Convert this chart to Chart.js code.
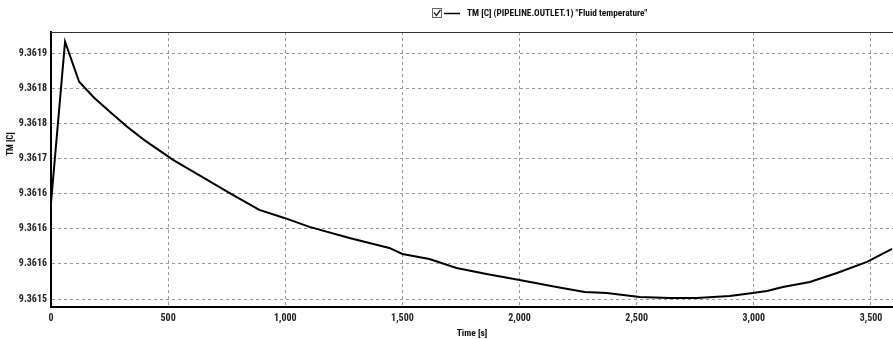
<!DOCTYPE html>
<html>
<head>
<meta charset="utf-8">
<script src="https://cdn.jsdelivr.net/npm/chart.js@4.4.1/dist/chart.umd.min.js"></script>
<style>
  html, body { margin: 0; padding: 0; background: #fff; }
  #wrap { width: 893px; height: 339px; position: relative; }
  canvas { display: block; }
</style>
</head>
<body>
<div id="wrap"><canvas id="tmChart" width="893" height="339"></canvas></div>
<script>
// time [s] and fluid temperature [C]
const times = [0, 60, 120, 184, 256, 325, 397, 521, 645, 761, 889, 996, 1103, 1274, 1444, 1500,
  1615, 1731, 1859, 2000, 2158, 2278, 2372, 2513, 2641, 2756, 2897, 2996, 3056, 3124, 3239, 3355, 3483, 3590];
const temps = [9.3616371, 9.3618671, 9.3618100, 9.3617871, 9.3617657, 9.3617457, 9.3617271, 9.3616986,
  9.3616743, 9.3616514, 9.3616271, 9.3616157, 9.3616029, 9.3615871, 9.3615729, 9.3615643,
  9.3615571, 9.3615443, 9.3615357, 9.3615271, 9.3615171, 9.3615100, 9.3615086, 9.3615029,
  9.3615014, 9.3615014, 9.3615043, 9.3615086, 9.3615114, 9.3615171, 9.3615243, 9.3615371,
  9.3615529, 9.3615714];
const xTickValues = [0, 500, 1000, 1500, 2000, 2500, 3000, 3500];
const yTickValues = [9.3615, 9.36155, 9.3616, 9.36165, 9.3617, 9.36175, 9.3618, 9.36185];
const yTickLabels = ['9.3615', '9.3616', '9.3616', '9.3616', '9.3617', '9.3618', '9.3618', '9.3619'];
const seriesLabel = 'TM [C] (PIPELINE.OUTLET.1) "Fluid temperature"';

const FONT = '"Roboto Condensed", "Liberation Sans", sans-serif';

// legend with checkbox, top border and the y title, drawn by hand
const extras = {
    id: 'extras',
    afterDraw(chart) {
        const ctx = chart.ctx;
        const area = chart.chartArea;
        ctx.save();
        // top border of plot
        ctx.strokeStyle = '#333';
        ctx.lineWidth = 1;
        ctx.beginPath();
        ctx.moveTo(area.left, area.top + 0.5);
        ctx.lineTo(area.right, area.top + 0.5);
        ctx.stroke();

        // checkbox
        ctx.strokeStyle = '#666';
        ctx.strokeRect(432.5, 8.5, 9, 9);
        ctx.strokeStyle = '#222';
        ctx.lineWidth = 1.3;
        ctx.beginPath();
        ctx.moveTo(434, 12.5);
        ctx.lineTo(436.5, 15.5);
        ctx.lineTo(440.5, 10);
        ctx.stroke();
        // legend line
        ctx.strokeStyle = '#000';
        ctx.lineWidth = 1.5;
        ctx.beginPath();
        ctx.moveTo(444, 13.5);
        ctx.lineTo(460, 13.5);
        ctx.stroke();
        ctx.fillStyle = '#111';
        ctx.font = 'bold 9.3px ' + FONT;
        ctx.textBaseline = 'middle';
        ctx.textAlign = 'left';
        ctx.fillText(chart.data.datasets[0].label, 467, 14);

        // y axis title
        ctx.translate(11, 144);
        ctx.rotate(-Math.PI / 2);
        ctx.textAlign = 'center';
        ctx.font = 'bold 9px ' + FONT;
        ctx.fillText('TM [C]', 0, 0);
        ctx.restore();
    }
};

const ctx = document.getElementById('tmChart').getContext('2d');
const tmChart = new Chart(ctx, {
    type: 'line',
    data: {
        datasets: [{
            label: seriesLabel,
            data: times.map((t, i) => ({ x: t, y: temps[i] })),
            borderColor: '#000',
            borderWidth: 2,
            pointRadius: 0,
            tension: 0,
            fill: false
        }]
    },
    options: {
        responsive: false,
        animation: false,
        layout: { padding: { top: 32, right: 0, left: 0, bottom: 0 } },
        plugins: { legend: { display: false }, tooltip: { enabled: false } },
        scales: {
            x: {
                type: 'linear',
                min: 0,
                max: 3594,
                afterFit: s => { s.height = 32; },
                afterBuildTicks: s => { s.ticks = xTickValues.map(v => ({ value: v })); },
                border: { color: '#000', width: 2, dash: [3, 3] },
                grid: { color: '#999', drawTicks: false },
                ticks: {
                    maxRotation: 0,
                    autoSkip: false,
                    padding: 5,
                    color: '#222',
                    font: { family: FONT, size: 10, weight: 'bold' },
                    callback: v => v.toLocaleString('en-US')
                },
                title: {
                    display: true,
                    text: 'Time [s]',
                    color: '#111',
                    font: { family: FONT, size: 9.5, weight: 'bold' },
                    padding: { top: 0, bottom: 0 }
                }
            },
            y: {
                min: 9.3614886,
                max: 9.361881,
                afterFit: s => { s.width = 51; },
                afterBuildTicks: s => { s.ticks = yTickValues.map(v => ({ value: v })); },
                border: { color: '#000', width: 2, dash: [3, 3] },
                grid: { color: '#999', drawTicks: false },
                ticks: {
                    autoSkip: false,
                    padding: 4,
                    color: '#222',
                    font: { family: FONT, size: 10, weight: 'bold' },
                    callback: (v, i) => yTickLabels[i]
                }
            }
        }
    },
    plugins: [extras]
});
</script>
</body>
</html>
